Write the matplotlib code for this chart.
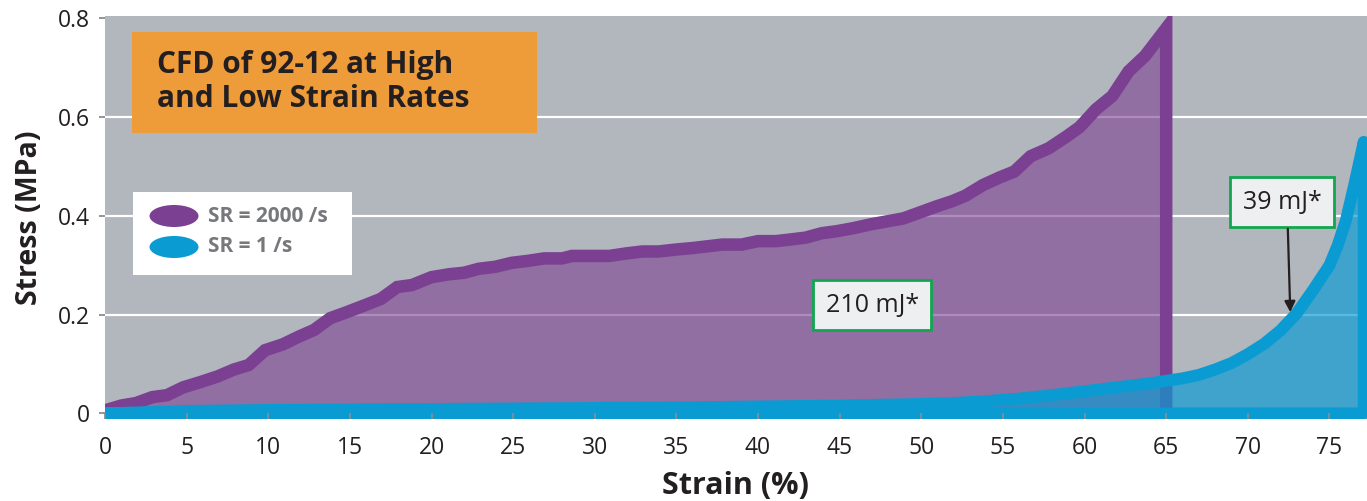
import matplotlib.pyplot as plt
from matplotlib.patches import Rectangle, Ellipse

plt.rcParams['font.family'] = ['Open Sans', 'DejaVu Sans']

# SR = 2000 /s curve (strain %, stress MPa)
strain_high = [0, 1.0, 1.9, 2.9, 3.8, 4.8, 5.8, 6.9, 7.9, 8.8,
               9.8, 10.9, 11.9, 12.8, 13.8, 14.8, 15.9, 16.9, 17.9, 18.8,
               20.0, 21.1, 22.0, 22.9, 23.9, 24.9, 25.9, 26.9, 28.0, 28.6,
               30.9, 31.9, 32.9, 33.9, 35.0, 36.0, 37.8, 39.0, 40.0, 41.1,
               41.9, 42.9, 43.9, 44.8, 45.8, 46.9, 47.9, 48.9, 49.9, 50.9,
               51.9, 52.7, 53.8, 54.8, 55.7, 56.7, 57.8, 58.9, 59.7, 60.7,
               61.7, 62.7, 63.7, 65.0]
stress_high = [0.006, 0.016, 0.021, 0.033, 0.037, 0.053, 0.063, 0.075, 0.089, 0.098,
               0.128, 0.14, 0.156, 0.169, 0.193, 0.205, 0.219, 0.232, 0.256, 0.26,
               0.276, 0.282, 0.285, 0.293, 0.297, 0.305, 0.309, 0.314, 0.314, 0.319,
               0.319, 0.324, 0.328, 0.328, 0.332, 0.335, 0.342, 0.342, 0.349, 0.349,
               0.352, 0.356, 0.365, 0.369, 0.375, 0.383, 0.389, 0.395, 0.407, 0.419,
               0.43, 0.441, 0.463, 0.478, 0.49, 0.521, 0.537, 0.561, 0.58, 0.616,
               0.643, 0.693, 0.724, 0.78]

# SR = 1 /s curve
strain_low = [0, 5, 10, 15, 20, 25, 30, 35, 40, 45, 50, 52, 54, 56, 58, 60, 62, 64,
              65, 66, 67, 68, 69, 70, 71, 72, 73, 74, 75, 75.5, 76, 76.5, 77.1]
stress_low = [0.0, 0.005, 0.007, 0.008, 0.009, 0.010, 0.011, 0.012, 0.014, 0.016,
              0.019, 0.021, 0.025, 0.030, 0.037, 0.045, 0.053, 0.061,
              0.066, 0.071, 0.078, 0.089, 0.102, 0.12, 0.141, 0.168, 0.203, 0.25,
              0.30, 0.34, 0.39, 0.46, 0.55]

x_ticks = [0, 5, 10, 15, 20, 25, 30, 35, 40, 45, 50, 55, 60, 65, 70, 75]
y_ticks = [0, 0.2, 0.4, 0.6, 0.8]
y_ticklabels = ['0', '0.2', '0.4', '0.6', '0.8']

series_labels = ['SR = 2000 /s', 'SR = 1 /s']
energy_labels = ['210 mJ*', '39 mJ*']
title = 'CFD of 92-12 at High\nand Low Strain Rates'

purple = '#7b4091'
blue = '#0a9bd3'
grey_bg = '#b2b6bd'
dark = '#231f20'

fig = plt.figure(figsize=(13.67, 5.01), dpi=100)
ax = fig.add_axes([105 / 1367, 82 / 501, 1262 / 1367, 403 / 501])
ax.set_facecolor(grey_bg)
ax.set_xlim(0, 77.3)
ax.set_ylim(-0.0113, 0.805)
for s in ax.spines.values():
    s.set_visible(False)

for yv in y_ticks[1:-1]:
    ax.axhline(yv, color='white', lw=1.6, zorder=0.5)

# high strain rate
ax.fill_between(strain_high, stress_high, 0, color=purple, alpha=0.6, lw=0, zorder=1)
ax.plot(strain_high + [strain_high[-1]], stress_high + [0], color=purple, lw=9,
        solid_joinstyle='miter', zorder=1.2)

# low strain rate
ax.fill_between(strain_low, stress_low, 0, color=blue, alpha=0.68, lw=0, zorder=1.5)
ax.plot(strain_low + [strain_low[-1], strain_low[0]], stress_low + [0, 0], color=blue,
        lw=8.6, solid_joinstyle='round', zorder=2)

ax.set_axisbelow(False)
ax.set_xticks(x_ticks)
ax.set_yticks(y_ticks)
ax.set_yticklabels(y_ticklabels)
ax.tick_params(axis='x', direction='in', length=4.5, width=1.3, color='#8a8c8e',
               labelsize=16.5, labelcolor=dark, pad=12)
ax.tick_params(axis='y', direction='out', length=4, width=1.3, color='#8a8c8e',
               labelsize=16.5, labelcolor=dark, pad=7)
ax.set_xlabel('Strain (%)', fontsize=22, fontweight='bold', color=dark, labelpad=8)
ax.set_ylabel('Stress (MPa)', fontsize=20.5, fontweight='bold', color=dark, labelpad=10)

# energy callouts
box = dict(boxstyle='square,pad=0.5', fc='#eeeff1', ec='#12a650', lw=2)
ax.text(47.0, 0.219, energy_labels[0], fontsize=18, color=dark, ha='center',
        va='center', bbox=box, zorder=5)
ax.text(72.1, 0.428, energy_labels[1], fontsize=18, color=dark, ha='center',
        va='center', bbox=box, zorder=5)
ax.annotate('', xy=(72.6, 0.205), xytext=(72.45, 0.374),
            arrowprops=dict(arrowstyle='-|>', color=dark, lw=1.6, mutation_scale=16,
                            shrinkA=0, shrinkB=0), zorder=5)

# title box
fig.patches.append(Rectangle((132 / 1367, 1 - 133 / 501), 405 / 1367, 101 / 501,
                             transform=fig.transFigure, fc='#ee9b3a', ec='none'))
fig.text(157 / 1367, 1 - 82 / 501, title, fontsize=21.5, fontweight='bold', color=dark,
         ha='left', va='center', linespacing=1.2)

# legend
fig.patches.append(Rectangle((133 / 1367, 1 - 275 / 501), 219 / 1367, 83 / 501,
                             transform=fig.transFigure, fc='white', ec='none'))
for i, (lab, col) in enumerate(zip(series_labels, [purple, blue])):
    yc = 1 - (216 + 31 * i) / 501
    fig.patches.append(Ellipse((174 / 1367, yc), 49 / 1367, 22 / 501,
                               transform=fig.transFigure, fc=col, ec='none'))
    fig.text(208 / 1367, yc, lab, fontsize=15, fontweight='bold', color='#76787b',
             ha='left', va='center')

fig.savefig('out.png', dpi=100)
